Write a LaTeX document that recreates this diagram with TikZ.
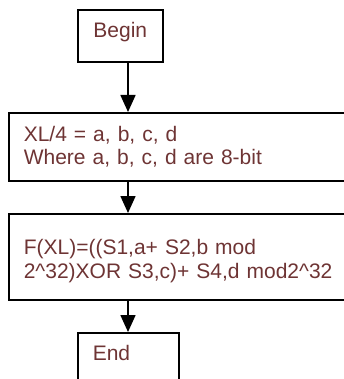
\documentclass[tikz,border=0pt]{standalone}
\usepackage{fontspec}
\setmainfont{Liberation Sans}
\usepackage{xcolor}
\usepackage{tikz}
\usetikzlibrary{shapes,arrows.meta}
\definecolor{textred}{RGB}{110,52,52}
\tikzstyle{termbox} = [rectangle, draw, line width=1.6pt, anchor=north west,
    text=textred, font=\fontsize{21pt}{23.5pt}\selectfont, minimum height=52pt,
    text height=15pt, text depth=11pt, inner xsep=15pt, inner ysep=4pt]
\tikzstyle{stepbox} = [rectangle, draw, line width=1.6pt, anchor=north west,
    text=textred, font=\fontsize{21pt}{23.5pt}\selectfont, text width=380pt,
    align=left, inner xsep=15pt, inner ysep=4pt]
\tikzstyle{arrow} = [draw, -{Triangle[width=15pt,length=17pt]}, line width=1.6pt]

\begin{document}
\begin{tikzpicture}[x=1pt, y=-1pt]
    \useasboundingbox (0,0) rectangle (344,379);
    % Place nodes
    \coordinate (spine) at (128,0);
    \node [termbox, minimum width=85pt] (begin) at (77,9) {Begin};
    \node [stepbox, minimum height=68pt] (split) at (8,112)
        {XL/4 = a, b, c, d\\Where a, b, c, d are 8-bit};
    \node [stepbox, minimum height=86pt] (round) at (8,213)
        {\mbox{}\\F(XL)=((S1,a+ S2,b mod\\2\textasciicircum32)XOR S3,c)+ S4,d mod2\textasciicircum32};
    \node [termbox, text width=71pt, align=left] (finish) at (77,332) {End};

    \path [arrow] (begin.south -| spine) -- (split.north -| spine);
    \path [arrow] (split.south -| spine) -- (round.north -| spine);
    \path [arrow] (round.south -| spine) -- (finish.north -| spine);
\end{tikzpicture}
\end{document}
